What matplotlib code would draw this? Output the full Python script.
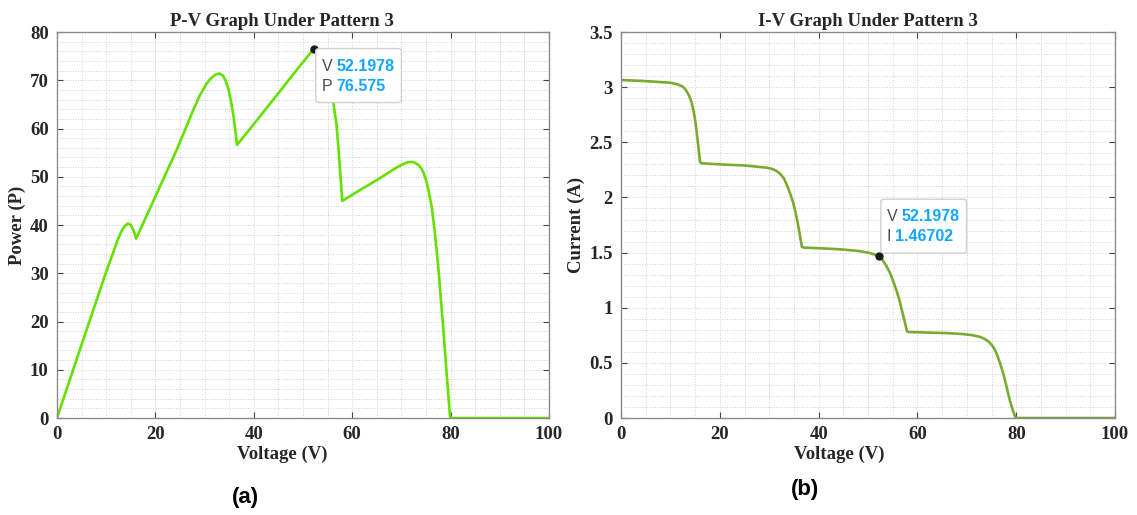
import numpy as np
import matplotlib
matplotlib.use('Agg')
import matplotlib.pyplot as plt
from matplotlib.ticker import MultipleLocator, FuncFormatter
from matplotlib.patches import FancyBboxPatch

# curva P-V (padrão 3)
v_pv = [0, 5, 10, 12.5, 13.3, 13.9, 14.4, 14.9, 15.4, 15.8, 16.1, 20, 24.3,
        27.7, 29.0, 30.4, 31.3, 32.1, 33.0, 33.7, 34.3, 34.9, 35.4, 35.9, 36.3,
        36.6, 40, 45.3, 49, 51.4, 52.1978, 53.0, 53.8, 54.5, 55.2, 56.2, 56.8,
        57.2, 57.6, 58.0, 61.5, 65, 69, 70.5, 71.3, 72.1, 72.8, 73.5, 74.1,
        74.6, 75.1, 75.6, 76.2, 76.8, 77.5, 78.0, 78.5, 79.2, 79.9, 80, 90, 100]
p_pv = [0, 15.2, 30.3, 37.3, 39.1, 39.9, 40.3, 40.1, 39.3, 38.2, 37.2, 45.9,
        55.5, 63.8, 66.8, 69.3, 70.4, 71.1, 71.4, 71.0, 69.9, 68.0, 65.5, 62.5,
        59.2, 56.6, 60.9, 67.7, 72.5, 75.5, 76.575, 76.0, 74.3, 71.5, 69.0,
        65.2, 61.0, 56.2, 50.5, 45.0, 47.2, 49.3, 51.9, 52.7, 53.0, 53.1, 52.9,
        52.4, 51.7, 50.6, 49.0, 46.8, 43.6, 38.5, 31.4, 25.0, 18.9, 9.3, 0.3,
        0, 0, 0]

# curva I-V (padrão 3)
v_iv = [0, 5, 10, 11.5, 12.5, 13.2, 13.8, 14.3, 14.7, 15.0, 15.3, 15.6, 15.8,
        16.0, 16.3, 20, 25, 29.5, 30.5, 31.5, 32.3, 33.0, 33.6, 34.2, 34.8,
        35.3, 35.8, 36.2, 36.6, 37.0, 40, 44.3, 48, 50, 51.2, 52.1978, 53.0,
        53.7, 54.4, 55.1, 55.8, 56.4, 57.0, 57.5, 57.9, 58.3, 62, 66, 69, 71,
        72.5, 73.5, 74.3, 75.0, 75.6, 76.1, 76.7, 77.4, 78.0, 78.7, 79.3, 79.8,
        80, 90, 100]
i_iv = [3.065, 3.055, 3.04, 3.025, 3.005, 2.97, 2.92, 2.86, 2.78, 2.70, 2.60,
        2.48, 2.40, 2.32, 2.31, 2.30, 2.29, 2.27, 2.26, 2.24, 2.21, 2.17, 2.11,
        2.04, 1.96, 1.87, 1.76, 1.66, 1.553, 1.545, 1.54, 1.53, 1.515, 1.50,
        1.485, 1.46702, 1.43, 1.38, 1.32, 1.24, 1.15, 1.06, 0.95, 0.86, 0.785,
        0.78, 0.775, 0.77, 0.762, 0.752, 0.738, 0.72, 0.697, 0.665, 0.625,
        0.575, 0.50, 0.40, 0.29, 0.16, 0.07, 0.01, 0, 0, 0]

# ponto marcado (datatip)
v_mpp = 52.1978
p_mpp = 76.575
i_mpp = 1.46702

serif = 'Liberation Serif'
sans = 'Liberation Sans'
cor_txt = '#262626'

fig = plt.figure(figsize=(11.37, 5.15), dpi=100)
ax1 = fig.add_axes([0.0501, 0.1883, 0.4327, 0.7495])
ax2 = fig.add_axes([0.5462, 0.1883, 0.4345, 0.7495])


def estilo(ax, xmaj, xmin, ymaj, ymin, ymax):
    ax.set_xticks(np.arange(0, 100.1, xmaj))
    ax.set_yticks(np.arange(0, ymax + ymaj / 2, ymaj))
    ax.xaxis.set_minor_locator(MultipleLocator(xmin))
    ax.yaxis.set_minor_locator(MultipleLocator(ymin))
    ax.yaxis.set_major_formatter(FuncFormatter(lambda v, pos: '%g' % v))
    ax.grid(which='both', linestyle=':', linewidth=0.7, color='#cfcfcf')
    ax.set_axisbelow(True)
    ax.tick_params(which='major', direction='in', length=4, width=0.8,
                   top=True, right=True, color='#444444', pad=6)
    ax.tick_params(which='minor', length=0)
    for s in ax.spines.values():
        s.set_color('#8a8a8a')
        s.set_linewidth(1.0)
    for lab in ax.get_xticklabels() + ax.get_yticklabels():
        lab.set_fontfamily(serif)
        lab.set_fontweight('bold')
        lab.set_fontsize(13.5)
        lab.set_color(cor_txt)


def rotulos(ax, titulo, ylab, xt, xl):
    ax.set_title(titulo, fontfamily=serif, fontweight='bold', fontsize=13.5,
                 color=cor_txt, pad=4, x=xt)
    ax.set_xlabel('Voltage (V)', fontfamily=serif, fontweight='bold',
                  fontsize=13.5, color=cor_txt, labelpad=2, x=xl)
    ax.set_ylabel(ylab, fontfamily=serif, fontweight='bold', fontsize=13.5,
                  color=cor_txt, labelpad=3)


# gráfico P-V
ax1.plot(v_pv, p_pv, color='#66e000', linewidth=1.9, solid_joinstyle='round')
ax1.set_xlim(0, 100)
ax1.set_ylim(0, 80)
estilo(ax1, 20, 5, 10, 2, 80)
rotulos(ax1, 'P-V Graph Under Pattern 3', 'Power (P)', 0.457, 0.457)
ax1.plot([v_mpp], [p_mpp], 'o', color='#1a1a1a', markersize=5, zorder=5,
         clip_on=False)

# gráfico I-V
ax2.plot(v_iv, i_iv, color='#77ac30', linewidth=1.9, solid_joinstyle='round')
ax2.set_xlim(0, 100)
ax2.set_ylim(0, 3.5)
estilo(ax2, 20, 5, 0.5, 0.1, 3.5)
rotulos(ax2, 'I-V Graph Under Pattern 3', 'Current (A)', 0.5, 0.441)
ax2.plot([v_mpp], [i_mpp], 'o', color='#1a1a1a', markersize=5, zorder=5)

fig.canvas.draw()
r = fig.canvas.get_renderer()
W, H = fig.bbox.width, fig.bbox.height


def datatip(ax, x, y, linhas, acima):
    # caixa branca: nome em cinza, valor em azul
    px, py = ax.transData.transform((x, y))
    x0 = px + 2
    altura = 54
    if acima:
        y0 = py + 3
    else:
        y0 = py - altura
    y1 = y0 + altura
    larg = 0
    for k, (nome, valor) in enumerate(linhas):
        yc = y1 - 17.5 - 20 * k
        t1 = fig.text((x0 + 6) / W, yc / H, nome, fontsize=11.5, fontfamily=sans,
                      color='#4d4d4d', ha='left', va='center', zorder=7)
        fig.canvas.draw()
        b1 = t1.get_window_extent(r)
        t2 = fig.text((b1.x1 + 4) / W, yc / H, valor, fontsize=11.5,
                      fontfamily=sans, fontweight='bold', color='#12a6ff',
                      ha='left', va='center', zorder=7)
        fig.canvas.draw()
        b2 = t2.get_window_extent(r)
        larg = max(larg, b2.x1 - x0)
    caixa = FancyBboxPatch((x0 / W, y0 / H), (larg + 7) / W, altura / H,
                           boxstyle='round,pad=0,rounding_size=0.004',
                           transform=fig.transFigure, fc='white', ec='#d0d0d0',
                           lw=1.0, zorder=6)
    fig.patches.append(caixa)


datatip(ax1, v_mpp, p_mpp, [('V', '52.1978'), ('P', '76.575')], False)
datatip(ax2, v_mpp, i_mpp, [('V', '52.1978'), ('I', '1.46702')], True)

# rótulos (a) e (b)
fig.text(245 / 1137, 1 - 497 / 515, '(a)', fontfamily=sans, fontweight='bold',
         fontsize=16, ha='center', va='center')
fig.text(805 / 1137, 1 - 490 / 515, '(b)', fontfamily=sans, fontweight='bold',
         fontsize=16, ha='center', va='center')

fig.savefig('out.png', dpi=100, facecolor='white')
